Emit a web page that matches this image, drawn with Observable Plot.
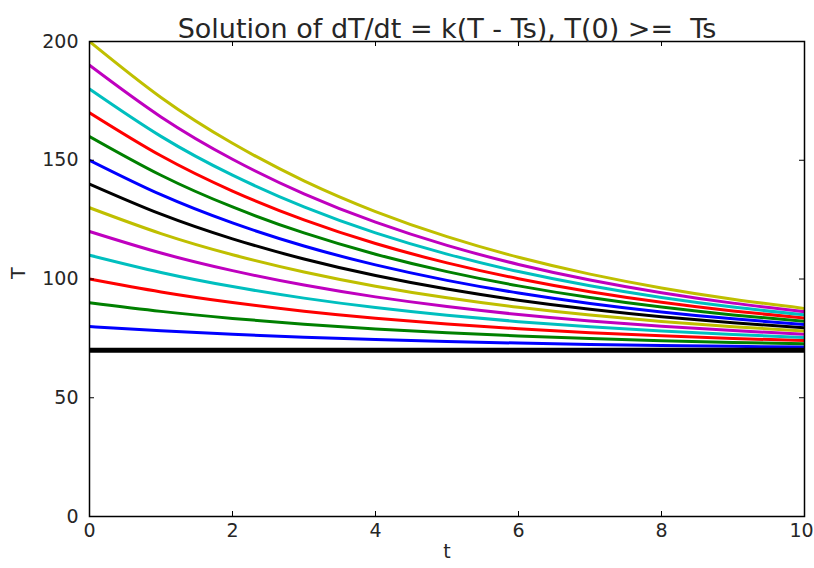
<!DOCTYPE html>
<html>
<head>
<meta charset="utf-8">
<script src="https://cdn.jsdelivr.net/npm/d3@7"></script>
<script src="https://cdn.jsdelivr.net/npm/@observablehq/plot@0.6"></script>
<style>
  html, body { margin: 0; padding: 0; background: #fff; }
</style>
</head>
<body>
<div id="chart"></div>
<script>
const titleText = "Solution of dT/dt = k(T - Ts), T(0) >=  Ts";
const xTicks = [0, 2, 4, 6, 8, 10];
const yTicks = [0, 50, 100, 150, 200];
const tValues = [0, 1, 2, 3, 4, 5, 6, 7, 8, 9, 10];
const startTemps = [80, 90, 100, 110, 120, 130, 140, 150, 160, 170, 180, 190, 200];
const seriesColors = ["#0000ff", "#008000", "#ff0000", "#00bfbf", "#bf00bf", "#bfbf00", "#000000",
                      "#0000ff", "#008000", "#ff0000", "#00bfbf", "#bf00bf", "#bfbf00"];
const curveValues = [
  [80, 78.19, 76.70, 75.49, 74.49, 73.68, 73.01, 72.47, 72.02, 71.65, 71.35],
  [90, 86.37, 83.41, 80.98, 78.99, 77.36, 76.02, 74.93, 74.04, 73.31, 72.71],
  [100, 94.56, 90.11, 86.46, 83.48, 81.04, 79.04, 77.40, 76.06, 74.96, 74.06],
  [110, 102.75, 96.81, 91.95, 87.97, 84.72, 82.05, 79.86, 78.08, 76.61, 75.41],
  [120, 110.94, 103.52, 97.44, 92.47, 88.40, 85.06, 82.33, 80.10, 78.27, 76.77],
  [130, 119.12, 110.22, 102.93, 96.96, 92.07, 88.07, 84.80, 82.11, 79.92, 78.12],
  [140, 127.31, 116.92, 108.42, 101.45, 95.75, 91.08, 87.26, 84.13, 81.57, 79.47],
  [150, 135.50, 123.62, 113.90, 105.94, 99.43, 94.10, 89.73, 86.15, 83.22, 80.82],
  [160, 143.68, 130.33, 119.39, 110.44, 103.11, 97.11, 92.19, 88.17, 84.88, 82.18],
  [170, 151.87, 137.03, 124.88, 114.93, 106.79, 100.12, 94.66, 90.19, 86.53, 83.53],
  [180, 160.06, 143.73, 130.37, 119.42, 110.47, 103.13, 97.13, 92.21, 88.18, 84.88],
  [190, 168.24, 150.44, 135.86, 123.92, 114.15, 106.14, 99.59, 94.23, 89.84, 86.24],
  [200, 176.43, 157.14, 141.34, 128.41, 117.83, 109.16, 102.06, 96.25, 91.49, 87.59]
];
const equilibriumValues = [70, 70, 70, 70, 70, 70, 70, 70, 70, 70, 70];

const rows = [];
curveValues.forEach((vals, i) => {
  vals.forEach((v, j) => rows.push({t: tValues[j], T: v, series: startTemps[i], color: seriesColors[i]}));
});
const eqRows = equilibriumValues.map((v, j) => ({t: tValues[j], T: v}));

const font = "DejaVu Sans, Bitstream Vera Sans, sans-serif";
const lastX = xTicks[xTicks.length - 1];

const chart = Plot.plot({
  width: 814,
  height: 568,
  marginLeft: 89,
  marginRight: 10,
  marginTop: 41,
  marginBottom: 52,
  style: {fontFamily: font, fontSize: "19px", color: "#262626", background: "#fff"},
  x: {domain: [0, 10], axis: null},
  y: {domain: [0, 200], axis: null},
  marks: [
    Plot.line(rows, {x: "t", y: "T", z: "series", stroke: "color", strokeWidth: 3, curve: "natural", clip: "frame"}),
    Plot.line(eqRows, {x: "t", y: "T", stroke: "#000", strokeWidth: 5, clip: "frame"}),
    Plot.frame({stroke: "#000", strokeWidth: 1.5}),
    Plot.tickY(yTicks, {y: d => d, insetRight: 710, stroke: "#000", strokeWidth: 1}),
    Plot.tickY(yTicks, {y: d => d, insetLeft: 710, stroke: "#000", strokeWidth: 1}),
    Plot.tickX(xTicks, {x: d => d, insetTop: 470, stroke: "#000", strokeWidth: 1}),
    Plot.tickX(xTicks, {x: d => d, insetBottom: 470, stroke: "#000", strokeWidth: 1}),
    Plot.text(yTicks, {y: d => d, text: d => String(d), frameAnchor: "left", textAnchor: "end", dx: -11, fill: "#262626"}),
    Plot.text(xTicks.filter(d => d !== lastX), {x: d => d, text: d => String(d), frameAnchor: "bottom", lineAnchor: "top", dy: 7, fill: "#262626"}),
    Plot.text([lastX], {x: d => d, text: d => String(d), frameAnchor: "bottom", lineAnchor: "top", dy: 7, dx: -3, fill: "#262626"}),
    Plot.text(["T"], {frameAnchor: "left", dx: -71, rotate: -90, fill: "#262626"}),
    Plot.text(["t"], {frameAnchor: "bottom", dy: 41, fill: "#262626"}),
    Plot.text([titleText], {frameAnchor: "top", dy: -23, fontSize: 27, fill: "#262626"})
  ]
});
document.getElementById("chart").appendChild(chart);
</script>
</body>
</html>
